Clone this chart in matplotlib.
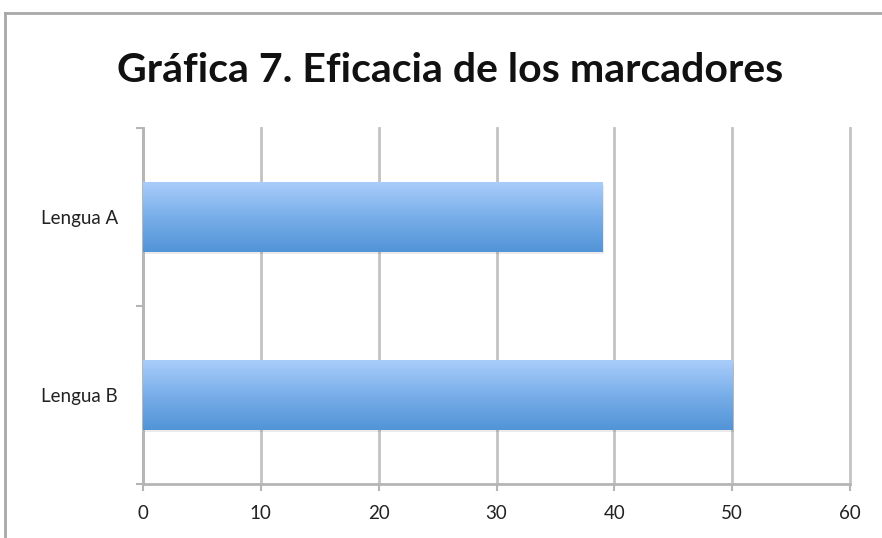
import numpy as np
import matplotlib
matplotlib.use("Agg")
import matplotlib.pyplot as plt
from matplotlib.colors import LinearSegmentedColormap
from matplotlib.lines import Line2D

# Datos de la gráfica
categorias = ["Lengua A", "Lengua B"]
valores = [39, 50]
ticks_x = [0, 10, 20, 30, 40, 50, 60]
titulo = "Gráfica 7. Eficacia de los marcadores"

plt.rcParams["font.family"] = ["Lato", "DejaVu Sans"]

fig = plt.figure(figsize=(8.82, 5.38), dpi=100)
ax = fig.add_axes([143 / 882, 54 / 538, 707 / 882, 356 / 538])

# Degradado azul (claro arriba, oscuro abajo)
degradado = LinearSegmentedColormap.from_list("azul", ["#a9cdfa", "#78aee9", "#5294d8"])
grad = np.linspace(0, 1, 100).reshape(-1, 1)

alto = 0.39
pos = np.arange(len(categorias))
barras = ax.barh(pos, valores, height=alto, color="none", zorder=3)

for b, v, y in zip(barras, valores, pos):
    # sombra suave bajo cada barra
    ax.barh(y + 0.015, v + 0.15, height=alto, color="#000000", alpha=0.08, zorder=2)
    ax.imshow(grad, extent=(0, v, y + alto / 2, y - alto / 2), origin="upper",
              aspect="auto", cmap=degradado, zorder=3, interpolation="bicubic")

ax.set_xlim(0, 60)
ax.set_ylim(len(categorias) - 0.5, -0.5)
ax.set_xticks(ticks_x)
ax.set_yticks(pos)
ax.set_yticklabels(categorias)
ax.set_yticks([-0.5, 0.5, 1.5], minor=True)

ax.grid(axis="x", color="#c3c3c3", linewidth=2, zorder=0)
ax.set_axisbelow(True)
for linea in ax.xaxis.get_gridlines():
    linea.set_clip_on(False)
for lado in ["top", "right"]:
    ax.spines[lado].set_visible(False)
for lado in ["left", "bottom"]:
    ax.spines[lado].set_color("#b5b5b5")
    ax.spines[lado].set_linewidth(2)

ax.tick_params(axis="x", length=5, width=1.5, color="#b5b5b5", labelsize=13.5,
               labelcolor="#222222", pad=10)
ax.tick_params(axis="y", which="major", length=0, labelsize=13.5, labelcolor="#222222", pad=18)
ax.tick_params(axis="y", which="minor", length=5, width=1.5, color="#b5b5b5")

fig.text(450 / 882, 1 - 70 / 538, titulo, ha="center", va="center",
         fontsize=29.5, fontweight="bold", color="#111111")

# Marco exterior
fig.add_artist(Line2D([5 / 882, 5 / 882], [0, 1 - 13 / 538], transform=fig.transFigure,
                      color="#a8a8a8", linewidth=2))
fig.add_artist(Line2D([5 / 882, 1], [1 - 13 / 538, 1 - 13 / 538], transform=fig.transFigure,
                      color="#a8a8a8", linewidth=2))

fig.savefig("out.png", dpi=100)
